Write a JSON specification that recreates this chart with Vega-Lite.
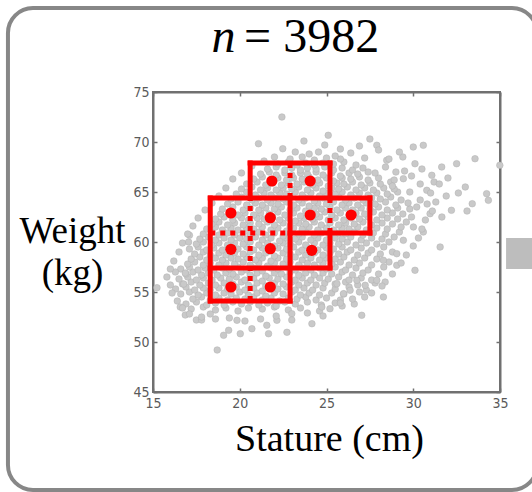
{
"$schema": "https://vega.github.io/schema/vega-lite/v6.json",
"width": 347, "height": 300,
"autosize": {"type": "none"},
"padding": {"left": 153, "top": 92, "right": 32, "bottom": 100},
"background": "white",
"resolve": {"axis": {"x": "independent", "y": "independent"}},
"config": {
  "view": {"stroke": "#707070", "strokeWidth": 2},
  "axis": {"domainColor": "#707070", "domainWidth": 2, "tickColor": "#707070", "tickWidth": 1.5, "tickSize": -4, "grid": false,
           "labelFont": "Liberation Sans Narrow, DejaVu Sans Condensed, Liberation Sans", "labelFontSize": 14, "labelColor": "#5a5a5a", "labelFlush": false}
},
"layer": [
  {
    "data": {"values": [{}]},
    "mark": {"type": "rect", "fillOpacity": 0, "stroke": "#878787", "strokeWidth": 4, "cornerRadius": 25, "clip": false},
    "encoding": {
      "x": {"datum": 6.64, "type": "quantitative", "axis": null},
      "x2": {"datum": 37.13},
      "y": {"datum": 83.4, "type": "quantitative", "axis": null},
      "y2": {"datum": 35.2}
    }
  },
  {
    "data": {"values": [{}]},
    "mark": {"type": "rect", "fill": "#bdbdbd", "clip": false},
    "encoding": {
      "x": {"datum": 35.35, "type": "quantitative", "axis": null},
      "x2": {"datum": 37.3},
      "y": {"datum": 60.4, "type": "quantitative", "axis": null},
      "y2": {"datum": 57.3}
    }
  },
  {
    "data": {"values": "x,y\n17.2,53.3\n17.9,53.5\n18.6,53.2\n19.2,53.4\n19.9,53.1\n20.5,53.4\n21.3,53.3\n22.0,53.5\n22.8,53.2\n23.5,53.4\n24.6,53.1\n25.9,53.6\n16.9,53.8\n17.5,54.0\n18.1,53.7\n18.6,53.9\n19.1,53.7\n19.6,54.0\n20.1,53.8\n20.6,54.0\n21.1,53.7\n21.6,53.9\n22.1,53.6\n22.6,54.0\n23.2,53.8\n23.9,54.0\n24.7,53.7\n25.5,53.9\n26.6,53.8\n17.3,54.3\n17.8,54.5\n18.3,54.2\n18.8,54.4\n19.3,54.2\n19.8,54.4\n20.3,54.3\n20.8,54.5\n21.3,54.2\n21.8,54.4\n22.3,54.1\n22.8,54.4\n23.3,54.3\n23.8,54.5\n24.4,54.2\n25.0,54.4\n25.8,54.2\n27.2,54.5\n16.6,54.8\n17.1,55.0\n17.6,54.7\n18.1,54.9\n18.6,54.7\n19.1,54.9\n19.5,54.8\n20.0,55.0\n20.5,54.7\n21.0,54.9\n21.5,54.6\n22.0,54.9\n22.5,54.8\n23.0,55.0\n23.5,54.7\n24.0,54.9\n24.6,54.7\n25.3,54.9\n26.0,54.8\n26.9,55.0\n16.3,55.3\n16.9,55.5\n17.4,55.2\n17.9,55.4\n18.3,55.2\n18.8,55.4\n19.3,55.3\n19.8,55.5\n20.3,55.2\n20.8,55.4\n21.3,55.1\n21.8,55.4\n22.2,55.3\n22.7,55.5\n23.2,55.2\n23.7,55.4\n24.2,55.2\n24.8,55.4\n25.5,55.3\n26.3,55.5\n27.3,55.2\n16.7,55.8\n17.2,56.0\n17.7,55.7\n18.2,55.9\n18.6,55.7\n19.1,55.9\n19.6,55.8\n20.1,56.0\n20.5,55.7\n21.0,55.9\n21.5,55.6\n22.0,55.9\n22.5,55.8\n23.0,56.0\n23.4,55.7\n23.9,55.9\n24.4,55.7\n24.9,55.9\n25.5,55.8\n26.1,56.0\n26.8,55.7\n27.8,55.9\n16.5,56.3\n17.0,56.5\n17.5,56.2\n17.9,56.4\n18.4,56.2\n18.9,56.4\n19.4,56.3\n19.8,56.5\n20.3,56.2\n20.8,56.4\n21.3,56.1\n21.7,56.4\n22.2,56.3\n22.7,56.5\n23.2,56.2\n23.6,56.4\n24.1,56.2\n24.6,56.4\n25.1,56.3\n25.7,56.5\n26.3,56.2\n27.0,56.4\n27.6,56.2\n16.9,56.8\n17.3,57.0\n17.8,56.7\n18.2,56.9\n18.7,56.7\n19.2,56.9\n19.6,56.8\n20.1,57.0\n20.6,56.7\n21.0,56.9\n21.5,56.6\n22.0,56.9\n22.4,56.8\n22.9,57.0\n23.4,56.7\n23.8,56.9\n24.3,56.7\n24.8,56.9\n25.3,56.8\n25.9,57.0\n26.5,56.7\n27.1,56.9\n28.0,56.8\n16.6,57.3\n17.1,57.5\n17.6,57.2\n18.0,57.4\n18.5,57.2\n19.0,57.4\n19.4,57.3\n19.9,57.5\n20.4,57.2\n20.8,57.4\n21.3,57.1\n21.8,57.4\n22.2,57.3\n22.7,57.5\n23.2,57.2\n23.6,57.4\n24.1,57.2\n24.6,57.4\n25.0,57.3\n25.5,57.5\n26.1,57.2\n26.7,57.4\n27.4,57.2\n28.3,57.5\n17.0,57.8\n17.4,58.0\n17.9,57.7\n18.3,57.9\n18.8,57.7\n19.2,57.9\n19.7,57.8\n20.2,58.0\n20.6,57.7\n21.1,57.9\n21.6,57.6\n22.0,57.9\n22.5,57.8\n22.9,58.0\n23.4,57.7\n23.9,57.9\n24.3,57.7\n24.8,57.9\n25.3,57.8\n25.8,58.0\n26.3,57.7\n26.9,57.9\n27.6,57.7\n28.6,58.0\n17.2,58.3\n17.7,58.5\n18.1,58.2\n18.6,58.4\n19.0,58.2\n19.5,58.4\n19.9,58.3\n20.4,58.5\n20.9,58.2\n21.3,58.4\n21.8,58.1\n22.2,58.4\n22.7,58.3\n23.2,58.5\n23.6,58.2\n24.1,58.4\n24.6,58.2\n25.0,58.4\n25.5,58.3\n26.0,58.5\n26.6,58.2\n27.2,58.4\n27.9,58.3\n17.4,58.8\n17.9,59.0\n18.3,58.7\n18.8,58.9\n19.2,58.7\n19.7,58.9\n20.2,58.8\n20.6,59.0\n21.1,58.7\n21.5,58.9\n22.0,58.6\n22.5,58.9\n22.9,58.8\n23.4,59.0\n23.8,58.7\n24.3,58.9\n24.8,58.7\n25.2,58.9\n25.7,58.8\n26.2,59.0\n26.8,58.7\n27.4,58.9\n28.1,58.8\n28.8,59.0\n17.1,59.3\n17.6,59.5\n18.1,59.2\n18.5,59.4\n19.0,59.2\n19.4,59.4\n19.9,59.3\n20.4,59.5\n20.8,59.2\n21.3,59.4\n21.7,59.1\n22.2,59.4\n22.7,59.3\n23.1,59.5\n23.6,59.2\n24.0,59.4\n24.5,59.2\n25.0,59.4\n25.4,59.3\n25.9,59.5\n26.4,59.2\n27.0,59.4\n27.6,59.2\n28.3,59.5\n17.5,59.8\n17.9,60.0\n18.4,59.7\n18.8,59.9\n19.3,59.7\n19.7,59.9\n20.2,59.8\n20.6,60.0\n21.1,59.7\n21.6,59.9\n22.0,59.6\n22.5,59.9\n22.9,59.8\n23.4,60.0\n23.8,59.7\n24.3,59.9\n24.8,59.7\n25.2,59.9\n25.7,59.8\n26.2,60.0\n26.7,59.7\n27.3,59.9\n27.9,59.8\n28.6,60.0\n17.7,60.3\n18.2,60.5\n18.6,60.2\n19.1,60.4\n19.5,60.2\n20.0,60.4\n20.4,60.3\n20.9,60.5\n21.3,60.2\n21.8,60.4\n22.3,60.1\n22.7,60.4\n23.2,60.3\n23.6,60.5\n24.1,60.2\n24.5,60.4\n25.0,60.2\n25.5,60.4\n25.9,60.3\n26.4,60.5\n27.0,60.2\n27.6,60.4\n28.2,60.3\n28.9,60.5\n17.9,60.8\n18.4,61.0\n18.8,60.7\n19.3,60.9\n19.7,60.7\n20.2,60.9\n20.6,60.8\n21.1,61.0\n21.5,60.7\n22.0,60.9\n22.5,60.6\n22.9,60.9\n23.4,60.8\n23.8,61.0\n24.3,60.7\n24.7,60.9\n25.2,60.7\n25.7,60.9\n26.1,60.8\n26.6,61.0\n27.1,60.7\n27.7,60.9\n28.4,60.8\n29.2,61.0\n18.1,61.3\n18.6,61.5\n19.0,61.2\n19.5,61.4\n19.9,61.2\n20.4,61.4\n20.8,61.3\n21.3,61.5\n21.8,61.2\n22.2,61.4\n22.7,61.1\n23.1,61.4\n23.6,61.3\n24.0,61.5\n24.5,61.2\n25.0,61.4\n25.4,61.2\n25.9,61.4\n26.3,61.3\n26.8,61.5\n27.3,61.2\n27.9,61.4\n28.5,61.3\n29.3,61.5\n18.4,61.8\n18.8,62.0\n19.3,61.7\n19.7,61.9\n20.2,61.7\n20.6,61.9\n21.1,61.8\n21.6,62.0\n22.0,61.7\n22.5,61.9\n22.9,61.6\n23.4,61.9\n23.8,61.8\n24.3,62.0\n24.7,61.7\n25.2,61.9\n25.7,61.7\n26.1,61.9\n26.6,61.8\n27.1,62.0\n27.6,61.7\n28.2,61.9\n28.8,61.8\n29.6,62.0\n18.6,62.3\n19.1,62.5\n19.6,62.2\n20.1,62.4\n20.5,62.2\n21.0,62.4\n21.4,62.3\n21.9,62.5\n22.3,62.2\n22.8,62.4\n23.2,62.1\n23.7,62.4\n24.2,62.3\n24.6,62.5\n25.1,62.2\n25.5,62.4\n26.0,62.2\n26.4,62.4\n26.9,62.3\n27.4,62.5\n27.9,62.2\n28.5,62.4\n29.1,62.3\n29.9,62.5\n18.9,62.8\n19.4,63.0\n19.9,62.7\n20.3,62.9\n20.8,62.7\n21.2,62.9\n21.7,62.8\n22.2,63.0\n22.6,62.7\n23.1,62.9\n23.5,62.6\n24.0,62.9\n24.4,62.8\n24.9,63.0\n25.3,62.7\n25.8,62.9\n26.3,62.7\n26.7,62.9\n27.2,62.8\n27.7,63.0\n28.2,62.7\n28.8,62.9\n29.4,62.8\n19.0,63.3\n19.6,63.5\n20.2,63.2\n20.6,63.4\n21.1,63.2\n21.5,63.4\n22.0,63.3\n22.4,63.5\n22.9,63.2\n23.3,63.4\n23.8,63.1\n24.3,63.4\n24.7,63.3\n25.2,63.5\n25.6,63.2\n26.1,63.4\n26.5,63.2\n27.0,63.4\n27.5,63.3\n28.0,63.5\n28.5,63.2\n29.1,63.4\n29.8,63.3\n19.3,63.8\n19.9,64.0\n20.4,63.7\n20.9,63.9\n21.3,63.7\n21.8,63.9\n22.2,63.8\n22.7,64.0\n23.1,63.7\n23.6,63.9\n24.0,63.6\n24.5,63.9\n25.0,63.8\n25.4,64.0\n25.9,63.7\n26.3,63.9\n26.8,63.7\n27.3,63.9\n27.8,63.8\n28.4,64.0\n29.0,63.7\n29.7,63.9\n19.5,64.3\n20.1,64.5\n20.7,64.2\n21.1,64.4\n21.6,64.2\n22.0,64.4\n22.5,64.3\n22.9,64.5\n23.4,64.2\n23.8,64.4\n24.3,64.1\n24.8,64.4\n25.2,64.3\n25.7,64.5\n26.1,64.2\n26.6,64.4\n27.1,64.2\n27.6,64.4\n28.1,64.3\n28.7,64.5\n29.3,64.2\n19.8,64.8\n20.4,65.0\n20.9,64.7\n21.4,64.9\n21.8,64.7\n22.3,64.9\n22.7,64.8\n23.2,65.0\n23.6,64.7\n24.1,64.9\n24.6,64.6\n25.0,64.9\n25.5,64.8\n25.9,65.0\n26.4,64.7\n26.9,64.9\n27.4,64.7\n27.9,64.9\n28.5,64.8\n29.1,65.0\n20.1,65.3\n20.7,65.5\n21.2,65.2\n21.6,65.4\n22.1,65.2\n22.5,65.4\n23.0,65.3\n23.4,65.5\n23.9,65.2\n24.4,65.4\n24.8,65.1\n25.3,65.4\n25.7,65.3\n26.2,65.5\n26.7,65.2\n27.2,65.4\n27.7,65.2\n28.3,65.4\n28.9,65.3\n20.4,65.8\n21.0,66.0\n21.5,65.7\n21.9,65.9\n22.4,65.7\n22.8,65.9\n23.3,65.8\n23.7,66.0\n24.2,65.7\n24.6,65.9\n25.1,65.6\n25.6,65.9\n26.0,65.8\n26.5,66.0\n27.0,65.7\n27.5,65.9\n28.1,65.8\n28.7,66.0\n20.8,66.3\n21.3,66.5\n21.8,66.2\n22.2,66.4\n22.7,66.2\n23.1,66.4\n23.6,66.3\n24.0,66.5\n24.5,66.2\n25.0,66.4\n25.4,66.1\n25.9,66.4\n26.4,66.3\n26.9,66.5\n27.4,66.2\n28.0,66.4\n21.2,66.8\n21.7,67.0\n22.1,66.7\n22.6,66.9\n23.0,66.7\n23.5,66.9\n23.9,66.8\n24.4,67.0\n24.8,66.7\n25.3,66.9\n25.8,66.6\n26.3,66.9\n26.8,66.8\n27.4,67.0\n21.6,67.3\n22.1,67.5\n22.6,67.2\n23.0,67.4\n23.5,67.2\n23.9,67.4\n24.4,67.3\n24.9,67.5\n25.4,67.2\n25.9,67.4\n26.5,67.2\n27.1,67.4\n22.2,67.8\n22.8,68.0\n23.3,67.7\n23.8,67.9\n24.3,67.7\n24.8,67.9\n25.4,67.8\n26.0,68.0\n26.7,67.7\n22.9,68.3\n23.6,68.5\n24.3,68.2\n25.0,68.4\n25.8,68.3\n15.23,55.43\n16.29,57.0\n16.86,56.9\n16.77,55.8\n16.57,53.5\n16.86,52.7\n17.05,60.0\n17.1,60.67\n17.5,52.2\n17.8,52.2\n18.3,52.8\n18.7,49.2\n19.07,50.67\n19.36,51.17\n20.03,50.83\n19.84,52.17\n20.7,51.33\n21.08,69.83\n21.66,50.83\n21.56,51.67\n22.14,52.17\n22.43,72.5\n22.48,69.33\n22.72,50.97\n23.0,52.83\n24.16,51.83\n24.54,69.0\n24.73,53.5\n25.1,70.67\n25.2,53.33\n25.8,69.3\n27.03,52.67\n26.36,55.17\n27.23,55.67\n27.9,69.67\n27.9,56.17\n28.38,56.0\n28.28,54.5\n28.47,68.17\n29.05,57.67\n30.1,57.17\n30.1,67.83\n30.58,69.67\n30.58,61.0\n31.55,59.5\n31.65,62.5\n32.2,63.17\n32.5,67.83\n33.0,65.5\n33.4,63.83\n33.56,68.33\n34.23,64.83\n34.33,64.17\n34.99,67.67\n31.64,67.5\n31.07,66.67\n30.0,69.5\n29.43,66.33\n30.78,65.17\n30.2,63.5\n30.97,62.83\n30.01,61.5\n29.43,60.17\n29.05,58.83\n28.28,58.17\n26.75,56.17\n25.98,54.83\n25.6,55.83\n27.8,66.9\n28.4,67.5\n28.9,66.2\n29.5,67.1\n28.6,68.3\n27.2,68.4\n26.4,68.9\n25.5,68.6\n24.0,68.8\n23.2,69.0\n22.0,68.5\n21.4,68.1\n20.7,67.6\n20.1,66.9\n19.6,66.3\n19.2,65.4\n18.8,64.6\n18.4,63.9\n18.0,63.2\n17.6,62.4\n17.3,61.6\n17.0,60.8\n16.7,59.9\n16.5,59.0\n16.2,58.1\n16.0,57.3\n15.8,56.5\n16.0,55.7\n16.1,54.9\n16.4,54.1\n16.7,53.4\n17.1,52.8\n17.8,52.5\n18.6,52.3\n19.4,52.4\n20.3,52.1\n21.2,52.3\n22.1,52.6\n23.0,52.2\n23.9,52.9\n24.8,52.6\n25.8,53.9\n26.5,54.3\n27.6,54.9\n28.2,55.6\n28.8,56.8\n29.3,57.9\n29.6,58.7\n30.0,59.6\n30.3,60.4\n30.5,61.3\n30.7,62.2\n31.1,63.1\n31.3,64.0\n31.0,64.9\n30.4,65.8\n29.9,66.6\n30.5,67.3\n31.2,66.0\n29.4,68.5\n28.0,69.2\n26.9,69.6\n24.9,69.7\n23.7,70.1\n27.5,70.3\n29.0,67.0\n29.8,65.0\n30.4,64.2\n31.5,65.8\n32.0,66.4\n29.2,69.0\n28.8,65.6\n30.8,63.8\n31.9,64.6\n32.6,64.9\n33.1,63.1", "format": {"type": "csv", "parse": {"x": "number", "y": "number"}}},
    "mark": {"type": "circle", "size": 44, "fill": "#c9c9c9", "stroke": "#b0b0b0", "strokeWidth": 0.5, "opacity": 1},
    "encoding": {
      "x": {"field": "x", "type": "quantitative", "scale": {"domain": [15, 35], "nice": false, "zero": false},
            "axis": {"values": [15, 20, 25, 30, 35], "labelPadding": 8, "title": "Stature (cm)", "titleX": 176, "titleY": 58, "titleAlign": "center", "titleBaseline": "alphabetic",
                     "titleFont": "Liberation Serif", "titleFontSize": 38, "titleFontWeight": "normal", "titleColor": "#000000"}},
      "y": {"field": "y", "type": "quantitative", "scale": {"domain": [45, 75], "nice": false, "zero": false},
            "axis": {"values": [45, 50, 55, 60, 65, 70, 75], "labelPadding": 8, "title": ["Weight", "(kg)"], "titleAngle": 0, "titleX": -81, "titleY": 150, "titleAlign": "center", "titleBaseline": "alphabetic",
                     "titleFont": "Liberation Serif", "titleFontSize": 37, "titleFontWeight": "normal", "titleColor": "#000000", "titleLineHeight": 42}}
    }
  },
  {
    "data": {"values": [
      {"x1": 20.6, "y1": 67.9, "x2": 25.2, "y2": 67.9},
      {"x1": 20.6, "y1": 64.4, "x2": 20.6, "y2": 67.9},
      {"x1": 25.2, "y1": 64.4, "x2": 25.2, "y2": 67.9},
      {"x1": 18.3, "y1": 64.4, "x2": 27.5, "y2": 64.4},
      {"x1": 18.3, "y1": 54.1, "x2": 18.3, "y2": 64.4},
      {"x1": 22.9, "y1": 54.1, "x2": 22.9, "y2": 64.4},
      {"x1": 27.5, "y1": 60.9, "x2": 27.5, "y2": 64.4},
      {"x1": 22.9, "y1": 60.9, "x2": 27.5, "y2": 60.9},
      {"x1": 25.2, "y1": 57.4, "x2": 25.2, "y2": 60.9},
      {"x1": 18.3, "y1": 57.4, "x2": 25.2, "y2": 57.4},
      {"x1": 18.3, "y1": 54.1, "x2": 22.9, "y2": 54.1}
    ]},
    "mark": {"type": "rule", "color": "#ff0000", "strokeWidth": 5, "strokeCap": "square"},
    "encoding": {
      "x": {"field": "x1", "type": "quantitative", "axis": null},
      "y": {"field": "y1", "type": "quantitative", "axis": null},
      "x2": {"field": "x2"},
      "y2": {"field": "y2"}
    }
  },
  {
    "data": {"values": [
      {"x1": 22.9, "y1": 64.4, "x2": 22.9, "y2": 67.9},
      {"x1": 20.6, "y1": 54.1, "x2": 20.6, "y2": 64.4},
      {"x1": 18.3, "y1": 60.9, "x2": 22.9, "y2": 60.9},
      {"x1": 25.2, "y1": 60.9, "x2": 25.2, "y2": 64.4}
    ]},
    "mark": {"type": "rule", "color": "#ff0000", "strokeWidth": 5, "strokeDash": [5, 5], "strokeCap": "butt"},
    "encoding": {
      "x": {"field": "x1", "type": "quantitative", "axis": null},
      "y": {"field": "y1", "type": "quantitative", "axis": null},
      "x2": {"field": "x2"},
      "y2": {"field": "y2"}
    }
  },
  {
    "data": {"values": [
      {"x": 21.85, "y": 66.1}, {"x": 24.06, "y": 66.1},
      {"x": 19.49, "y": 62.9}, {"x": 21.76, "y": 62.43}, {"x": 24.06, "y": 62.7}, {"x": 26.42, "y": 62.7},
      {"x": 19.49, "y": 59.27}, {"x": 21.76, "y": 59.33}, {"x": 24.15, "y": 59.17},
      {"x": 19.49, "y": 55.5}, {"x": 21.76, "y": 55.5}
    ]},
    "mark": {"type": "circle", "size": 125, "color": "#ff0000", "opacity": 1},
    "encoding": {
      "x": {"field": "x", "type": "quantitative", "axis": {"orient": "top", "labels": false, "title": null, "values": [15, 20, 25, 30, 35]}},
      "y": {"field": "y", "type": "quantitative", "axis": {"orient": "right", "labels": false, "title": null, "values": [45, 50, 55, 60, 65, 70, 75]}}
    }
  },
  {
    "data": {"values": [{"t": "n"}]},
    "mark": {"type": "text", "font": "Liberation Serif", "fontStyle": "italic", "fontSize": 48, "align": "right", "baseline": "alphabetic", "color": "#000000", "clip": false},
    "encoding": {
      "x": {"datum": 19.75, "type": "quantitative", "axis": null},
      "y": {"datum": 79, "type": "quantitative", "axis": null},
      "text": {"field": "t"}
    }
  },
  {
    "data": {"values": [{"t": "= 3982"}]},
    "mark": {"type": "text", "font": "Liberation Serif", "fontSize": 48, "align": "left", "baseline": "alphabetic", "color": "#000000", "clip": false},
    "encoding": {
      "x": {"datum": 20.25, "type": "quantitative", "axis": null},
      "y": {"datum": 79, "type": "quantitative", "axis": null},
      "text": {"field": "t"}
    }
  }
]
}
